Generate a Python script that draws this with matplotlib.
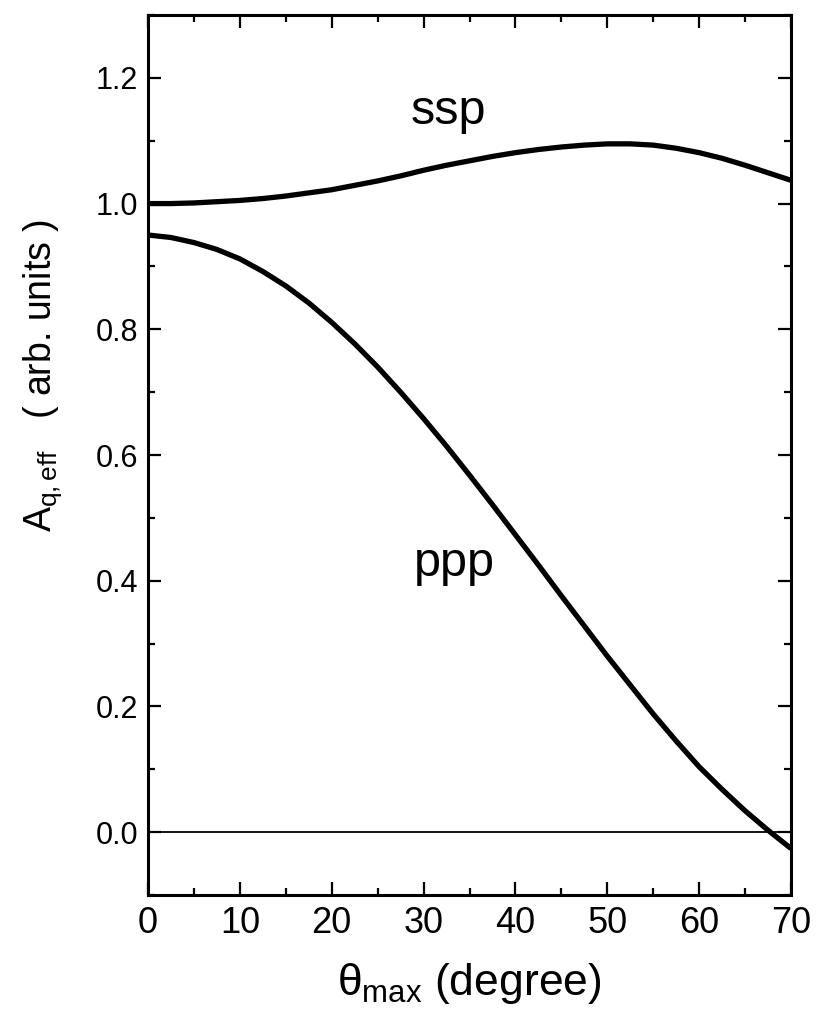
import matplotlib
matplotlib.use("Agg")
import matplotlib.pyplot as plt
from matplotlib.ticker import MultipleLocator

theta = [0, 2.5, 5, 7.5, 10, 12.5, 15, 17.5, 20, 22.5, 25, 27.5, 30, 32.5, 35,
         37.5, 40, 42.5, 45, 47.5, 50, 52.5, 55, 57.5, 60, 62.5, 65, 67.5, 70]
ssp = [1.000, 1.000, 1.001, 1.003, 1.005, 1.008, 1.012, 1.017, 1.022, 1.029,
       1.036, 1.044, 1.053, 1.061, 1.068, 1.075, 1.081, 1.086, 1.090, 1.093,
       1.095, 1.095, 1.093, 1.088, 1.081, 1.072, 1.061, 1.049, 1.037]
ppp = [0.950, 0.946, 0.938, 0.927, 0.912, 0.892, 0.869, 0.842, 0.811, 0.777,
       0.740, 0.700, 0.658, 0.614, 0.568, 0.521, 0.473, 0.425, 0.376, 0.328,
       0.280, 0.234, 0.188, 0.145, 0.104, 0.068, 0.034, 0.003, -0.026]
yticks = [0.0, 0.2, 0.4, 0.6, 0.8, 1.0, 1.2]
xticks = [0, 10, 20, 30, 40, 50, 60, 70]

plt.rcParams['font.family'] = ['Liberation Sans', 'DejaVu Sans']
plt.rcParams['mathtext.fontset'] = 'custom'
plt.rcParams['mathtext.rm'] = 'Liberation Sans'
plt.rcParams['mathtext.it'] = 'Liberation Sans'
plt.rcParams['mathtext.sf'] = 'Liberation Sans'

fig = plt.figure(figsize=(8.16, 10.26), dpi=100)
ax = fig.add_axes([148/816, 1 - 895/1026, (791-148)/816, (895-15)/1026])

ax.plot(theta, ssp, color='black', lw=3.8, solid_capstyle='butt', solid_joinstyle='round')
ax.plot(theta, ppp, color='black', lw=3.8, solid_capstyle='butt', solid_joinstyle='round')
ax.axhline(0.0, color='black', lw=1.3)

ax.set_xlim(0, 70)
ax.set_ylim(-0.1, 1.3)
ax.set_xticks(xticks)
ax.set_yticks(yticks)
ax.set_yticklabels([f"{v:.1f}" for v in yticks])
ax.xaxis.set_minor_locator(MultipleLocator(5))
ax.yaxis.set_minor_locator(MultipleLocator(0.1))
ax.tick_params(which='both', direction='in', top=True, right=True, width=1.6)
ax.tick_params(which='major', length=9.5)
ax.tick_params(which='minor', length=5)
ax.tick_params(axis='x', which='major', labelsize=26, pad=8)
ax.tick_params(axis='y', which='major', labelsize=22, pad=7)
for s in ax.spines.values():
    s.set_linewidth(2.2)

ax.text(32.7, 1.127, 'ssp', fontsize=35, ha='center', va='baseline')
ax.text(33.4, 0.408, 'ppp', fontsize=35, ha='center', va='baseline')

ax.set_xlabel(r'$\theta_{\mathrm{max}}$ (degree)', fontsize=32, labelpad=14)
ax.set_ylabel(r'$\mathrm{A}_{\mathrm{q,eff}}$   ( arb. units )', fontsize=27)
ax.yaxis.set_label_coords(-0.131, 0.59)

fig.savefig('out.png', dpi=100)
